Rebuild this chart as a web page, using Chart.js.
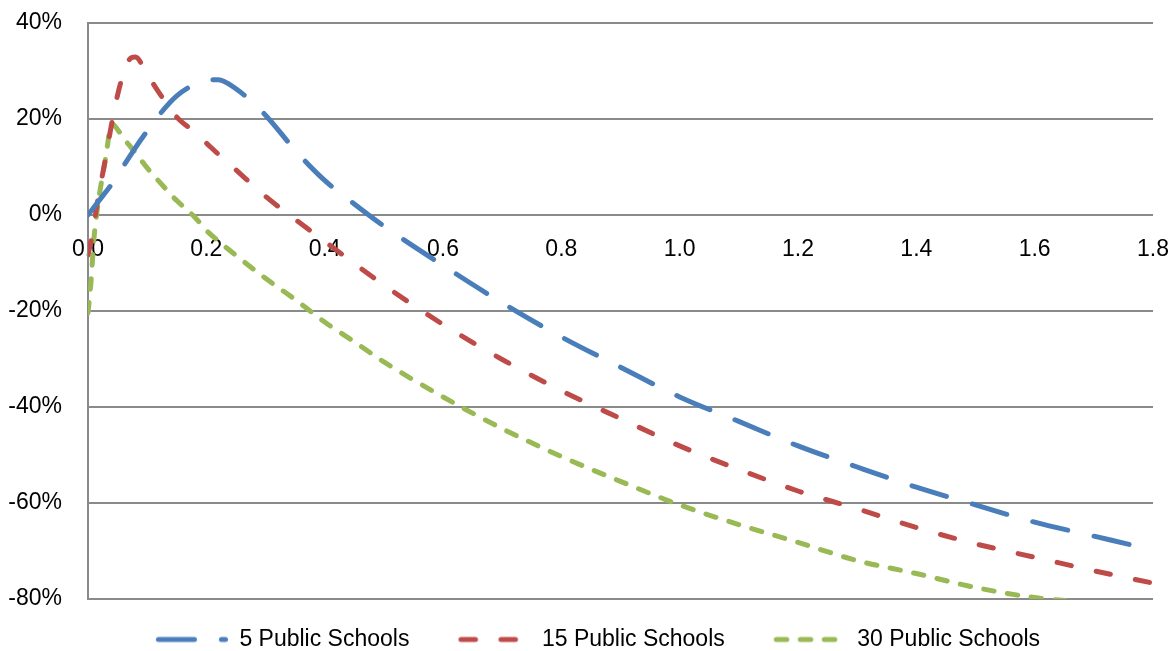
<!DOCTYPE html>
<html>
<head>
<meta charset="utf-8">
<script src="https://cdn.jsdelivr.net/npm/chart.js@4.4.1/dist/chart.umd.min.js"></script>
<style>
  html, body { margin: 0; padding: 0; background: #ffffff; }
  canvas { display: block; }
</style>
</head>
<body>
<canvas id="chart" width="1176" height="651"></canvas>
<script>
// Horizontal positions shared by all three curves
const ratios = [0, 0.005, 0.01, 0.015, 0.02, 0.03, 0.04, 0.05, 0.06, 0.07, 0.08, 0.1, 0.12, 0.15, 0.18, 0.2, 0.22, 0.25,
  0.3, 0.35, 0.4, 0.45, 0.5, 0.6, 0.7, 0.8, 0.9, 1.0, 1.1, 1.2, 1.3, 1.4, 1.5, 1.6, 1.7, 1.8];

// Percent change for each group size
const fivePublic = [0, 0.8, 1.6, 2.4, 3.2, 4.8, 6.4, 8.2, 10.2, 12.1, 14.0, 17.5, 20.8, 24.8, 27.2, 28.0, 28.2, 26.3,
  20.8, 13.5, 7.2, 2.3, -2.3, -10.5, -18.3, -25.4, -31.7, -37.9, -43.0, -48.1, -52.5, -56.7, -60.4, -64.0, -66.9, -69.8];
const fifteenPublic = [-8.3, -5.5, -2.0, 2.0, 5.5, 12.0, 19.0, 25.0, 29.5, 32.4, 32.9, 29.3, 25.5, 20.4, 17.3, 15.0, 12.7, 9.4,
  3.9, -0.9, -5.5, -10.1, -14.6, -22.8, -30.1, -36.6, -42.4, -48.1, -53.0, -57.5, -61.2, -65.1, -68.5, -71.3, -74.1, -76.7];
const thirtyPublic = [-20.4, -14.0, -5.0, 0.5, 4.8, 12.0, 19.0, 17.8, 16.0, 14.5, 13.0, 9.8, 7.0, 3.0, -0.4, -3.2, -5.4, -8.4,
  -13.2, -17.6, -22.3, -26.4, -30.6, -37.9, -44.5, -50.3, -55.5, -60.4, -64.5, -68.2, -72.0, -74.7, -77.6, -79.7, -80.8, null];

const seriesNames = ['5 Public Schools', '15 Public Schools', '30 Public Schools'];
const xTickValues = [0, 0.2, 0.4, 0.6, 0.8, 1.0, 1.2, 1.4, 1.6, 1.8];
const yTickValues = [-80, -60, -40, -20, 0, 20, 40];

const FONT = "'Liberation Sans', Arial, sans-serif";
const LINE_W = 5;
const styles = [
  { color: '#4A7EBB', dash: [36, 27] },
  { color: '#BE4B48', dash: [14.5, 25.5] },
  { color: '#98B954', dash: [10.5, 13.5] }
];

// Small dashed stroke used as the key swatch in the legend
const SWATCH_W = 92, SWATCH_LEAD = 20;
function makeSwatch(style) {
  const c = document.createElement('canvas');
  c.width = SWATCH_W; c.height = 8;
  const g = c.getContext('2d');
  g.strokeStyle = style.color;
  g.lineWidth = LINE_W;
  g.lineCap = 'round';
  g.setLineDash(style.dash);
  g.beginPath();
  g.moveTo(SWATCH_LEAD + LINE_W / 2, 4);
  g.lineTo(SWATCH_W - LINE_W / 2, 4);
  g.stroke();
  return c;
}

function toPoints(values) {
  return ratios.map((x, i) => ({ x: x, y: values[i] }));
}

const seriesValues = [fivePublic, fifteenPublic, thirtyPublic];
const datasets = seriesValues.map((vals, i) => ({
  label: seriesNames[i],
  data: toPoints(vals),
  borderColor: styles[i].color,
  backgroundColor: styles[i].color,
  borderWidth: LINE_W,
  borderDash: styles[i].dash,
  borderCapStyle: 'round',
  borderJoinStyle: 'round',
  cubicInterpolationMode: 'monotone',
  pointRadius: 0,
  pointHoverRadius: 0,
  pointStyle: makeSwatch(styles[i]),
  fill: false,
  spanGaps: false
}));

new Chart(document.getElementById('chart'), {
  type: 'line',
  data: { datasets: datasets },
  options: {
    responsive: false,
    animation: false,
    events: [],
    layout: { padding: { left: 0, top: 23, right: 0, bottom: 0 } },
    scales: {
      x: {
        type: 'linear',
        min: 0,
        max: 1.8,
        position: { y: 0 },
        afterBuildTicks: (scale) => { scale.ticks = xTickValues.map(v => ({ value: v })); },
        // keep a fixed right margin for the plot area
        afterFit: (scale) => { scale.paddingLeft = 0; scale.paddingRight = 23; },
        grid: { display: false, drawTicks: false },
        border: { display: false },
        ticks: {
          padding: 21,
          color: '#000000',
          font: { family: FONT, size: 23 },
          maxRotation: 0,
          autoSkip: false,
          callback: (v) => Number(v).toFixed(1)
        }
      },
      y: {
        type: 'linear',
        min: -80,
        max: 40,
        afterBuildTicks: (scale) => { scale.ticks = yTickValues.map(v => ({ value: v })); },
        afterFit: (scale) => { scale.width = 88; scale.paddingTop = 0; scale.paddingBottom = 0; },
        grid: { color: '#8a8a8a', lineWidth: 2, drawTicks: false },
        border: { display: true, color: '#8a8a8a', width: 2 },
        ticks: {
          padding: 26,
          color: '#000000',
          font: { family: FONT, size: 23 },
          callback: (v) => v + '%'
        }
      }
    },
    plugins: {
      tooltip: { enabled: false },
      legend: {
        position: 'bottom',
        maxHeight: 52,
        labels: {
          usePointStyle: true,
          pointStyleWidth: SWATCH_W,
          padding: 29,
          color: '#000000',
          font: { family: FONT, size: 23 }
        }
      }
    }
  }
});
</script>
</body>
</html>
